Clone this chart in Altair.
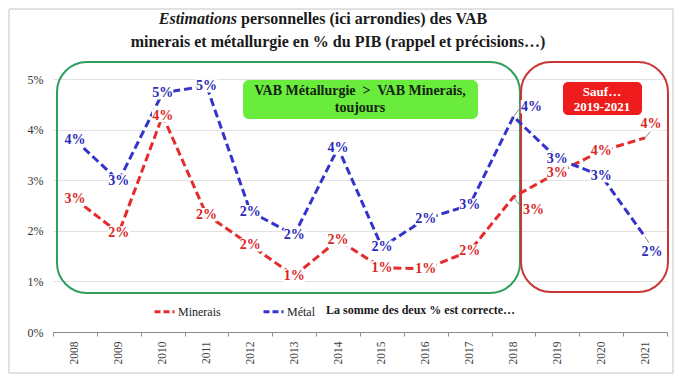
import altair as alt
import pandas as pd

# ---------------- data ----------------
years = [2008, 2009, 2010, 2011, 2012, 2013, 2014, 2015, 2016, 2017, 2018, 2019, 2020, 2021]
minerais = [2.63, 1.96, 4.28, 2.32, 1.72, 1.11, 1.82, 1.27, 1.25, 1.60, 2.67, 3.15, 3.58, 3.84]
metal = [3.80, 2.99, 4.73, 4.87, 2.38, 1.92, 3.64, 1.68, 2.24, 2.51, 4.26, 3.43, 3.09, 1.88]
series_names = ["Minerais", "Métal"]
series_colors = ["#e52b2b", "#3434cc"]
label_colors = ["#d92626", "#2a2ab8"]
y_ticks = [0, 1, 2, 3, 4, 5]

title_italic = "Estimations"
title_line1 = "personnelles (ici arrondies) des VAB"
title_line2 = "minerais et métallurgie en % du PIB (rappel et précisions…)"
green_note = ["VAB Métallurgie\u00a0 >\u00a0 VAB Minerais,", "toujours"]
red_note = ["Sauf…", "2019-2021"]
footer_note = "La somme des deux % est correcte…"

df = pd.DataFrame({
    "year": years * 2,
    "value": minerais + metal,
    "serie": [series_names[0]] * len(years) + [series_names[1]] * len(years),
})

FONT = "Liberation Serif"

x_enc = alt.X(
    "year:O", bandPosition=0.5,
    scale=alt.Scale(type="band", paddingInner=0, paddingOuter=0),
    axis=alt.Axis(title=None, labelAngle=-90, tickBand="extent", grid=False,
                  domainColor="#8c8c8c", tickColor="#8c8c8c", tickSize=4,
                  labelFont=FONT, labelFontSize=11.5, labelColor="#404040",
                  labelPadding=5),
)
y_enc = alt.Y(
    "value:Q",
    scale=alt.Scale(domain=[0, 5.4], nice=False, zero=True),
    axis=alt.Axis(title=None, values=y_ticks, labelExpr="datum.value + '%'",
                  domain=False, ticks=False, gridColor="#e2e2e2",
                  labelFont=FONT, labelFontSize=12, labelColor="#333333",
                  labelPadding=10),
)
color_enc = alt.Color(
    "serie:N", sort=series_names,
    scale=alt.Scale(domain=series_names, range=series_colors),
    legend=alt.Legend(title=None, orient="none", legendX=100, legendY=241,
                      direction="horizontal", symbolType="stroke",
                      symbolSize=400, symbolStrokeWidth=3, symbolDash=[6, 3],
                      labelFont=FONT, labelFontSize=12, labelColor="#222222",
                      columnPadding=36, labelOffset=2),
)
label_color = alt.condition(f"datum.serie == '{series_names[0]}'",
                            alt.value(label_colors[0]), alt.value(label_colors[1]))

one = pd.DataFrame({"a": [0]})


def box(x1, x2, y1, y2, **kw):
    return alt.Chart(one).mark_rect(**kw).encode(
        x=alt.value(x1), x2=alt.value(x2), y=alt.value(y1), y2=alt.value(y2))


def note(text, x, y, **kw):
    return alt.Chart(one).mark_text(text=text, font=FONT, baseline="middle", **kw).encode(
        x=alt.value(x), y=alt.value(y))


border = box(-44, 620, -50, 314, fillOpacity=0, stroke="#c4c4c4", strokeWidth=1)
green_box = box(4, 467, 3, 234, cornerRadius=30, fillOpacity=0, stroke="#2f9e5f", strokeWidth=2)
red_box = box(468, 615, 3, 233, cornerRadius=30, fillOpacity=0, stroke="#cc3535", strokeWidth=2)
green_lab = box(190, 425, 21, 60, cornerRadius=6, fill="#6aec3c")
red_lab = box(510, 589, 23, 56, cornerRadius=5, fill="#ee1c1c")

notes = [
    note(title_italic, 184, -40, align="right", fontSize=16, fontWeight="bold", fontStyle="italic", color="#1a1a1a"),
    note(title_line1, 188, -40, align="left", fontSize=16, fontWeight="bold", color="#1a1a1a"),
    note(title_line2, 285, -17, align="center", fontSize=16, fontWeight="bold", color="#1a1a1a"),
    note(green_note[0], 307, 32, align="center", fontSize=14, fontWeight="bold", color="#142414"),
    note(green_note[1], 307, 49, align="center", fontSize=14, fontWeight="bold", color="#142414"),
    note(red_note[0], 549, 33, align="center", fontSize=13, fontWeight="bold", color="white"),
    note(red_note[1], 549, 48, align="center", fontSize=13, fontWeight="bold", color="white"),
    note(footer_note, 273, 251, align="left", fontSize=12, fontWeight="bold", color="#1a1a1a"),
]

base = alt.Chart(df).transform_calculate(lab="round(datum.value) + '%'")

lines = base.mark_line(strokeDash=[8, 4], strokeWidth=3).encode(x=x_enc, y=y_enc, color=color_enc)

# label placement: default centred on the point, a few moved (with leader lines)
moved = {
    (2018, "Métal"): dict(dx=18, dy=-10, lx=6, ly=-8),
    (2018, "Minerais"): dict(dx=20, dy=13, lx=6, ly=8),
    (2021, "Métal"): dict(dx=7, dy=15, lx=4, ly=6),
    (2021, "Minerais"): dict(dx=6, dy=-14, lx=5, ly=-6),
}
moved_expr = " || ".join(f"(datum.year == {y} && datum.serie == '{s}')" for (y, s) in moved)

bg_shape = "M-1,-0.62L1,-0.62L1,0.62L-1,0.62Z"
layers = [border, green_box, red_box, green_lab, red_lab, lines]

plain = base.transform_filter(f"!({moved_expr})")
layers.append(plain.mark_point(shape=bg_shape, filled=True, color="white", opacity=1,
                               size=460, strokeWidth=0).encode(x=x_enc, y=y_enc))
layers.append(plain.mark_text(font=FONT, fontWeight="bold", fontSize=14, baseline="middle").encode(
    x=x_enc, y=y_enc, text="lab:N", color=label_color))

for (yr, s), o in moved.items():
    sub = base.transform_filter(f"datum.year == {yr} && datum.serie == '{s}'")
    layers.append(sub.mark_rule(color="#8a8a8a", strokeWidth=1, x2Offset=o["lx"], y2Offset=o["ly"]).encode(
        x=x_enc, x2=alt.X2("year:O", bandPosition=0.5), y=y_enc, y2="value:Q"))
    layers.append(sub.mark_point(shape=bg_shape, filled=True, color="white", opacity=1, size=460,
                                 strokeWidth=0, xOffset=o["dx"], yOffset=o["dy"]).encode(x=x_enc, y=y_enc))
    layers.append(sub.mark_text(font=FONT, fontWeight="bold", fontSize=14, baseline="middle",
                                dx=o["dx"], dy=o["dy"]).encode(
        x=x_enc, y=y_enc, text="lab:N", color=label_color))

layers += notes

chart = alt.layer(*layers).properties(
    width=614, height=273,
    autosize=alt.AutoSizeParams(type="none"),
    padding={"left": 45, "top": 51, "right": 9, "bottom": 45},
    background="white",
).configure(font=FONT).configure_view(stroke=None).configure_text(font=FONT)

chart.save("out.html", embed_options={"renderer": "svg", "actions": False})
